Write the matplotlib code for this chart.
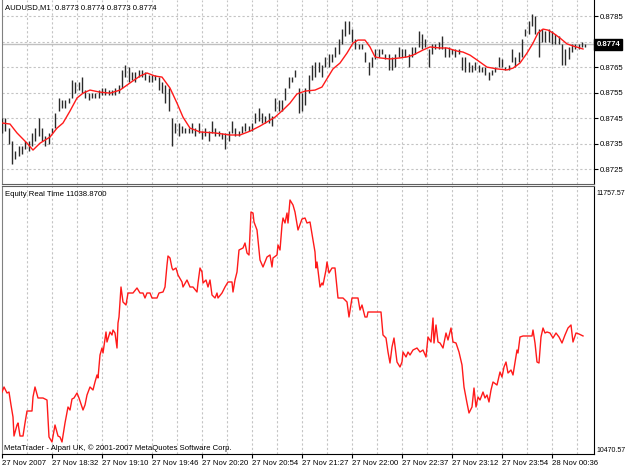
import matplotlib
matplotlib.use('Agg')
import matplotlib.pyplot as plt
import numpy as np
from matplotlib.transforms import blended_transform_factory

plt.rcParams['font.family'] = ['Liberation Sans', 'DejaVu Sans']
FS = 5.6

# ---------------- data ----------------
symbol_title = "AUDUSD,M1  0.8773 0.8774 0.8773 0.8774"
equity_title = "Equity Real Time 11038.8700"
copyright_text = "MetaTrader - Alpari UK, \u00a9 2001-2007 MetaQuotes Software Corp."

bar_high = [0.8745, 0.8745, 0.8741, 0.8736, 0.8732, 0.8734, 0.8734, 0.8736, 0.8736, 0.8739,
            0.8741, 0.8745, 0.8741, 0.8738, 0.8739, 0.8741, 0.8747, 0.8753, 0.8752, 0.8752,
            0.8753, 0.8760, 0.8759, 0.8759, 0.8761, 0.8756, 0.8755, 0.8755, 0.8755, 0.8756,
            0.8757, 0.8757, 0.8756, 0.8756, 0.8757, 0.8758, 0.8764, 0.8766, 0.8765, 0.8763,
            0.8763, 0.8764, 0.8764, 0.8763, 0.8762, 0.8762, 0.8762, 0.8761, 0.8759, 0.8758,
            0.8757, 0.8745, 0.8743, 0.8743, 0.8742, 0.8741, 0.8741, 0.8743, 0.8741, 0.8743,
            0.8740, 0.8741, 0.8740, 0.8744, 0.8741, 0.8740, 0.8739, 0.8739, 0.8740, 0.8744,
            0.8741, 0.8740, 0.8742, 0.8743, 0.8742, 0.8743, 0.8747, 0.8749, 0.8747, 0.8746,
            0.8747, 0.8746, 0.8753, 0.8752, 0.8752, 0.8757, 0.8761, 0.8761, 0.8764, 0.8757,
            0.8755, 0.8757, 0.8762, 0.8766, 0.8767, 0.8767, 0.8766, 0.8769, 0.8770, 0.8770,
            0.8773, 0.8776, 0.8780, 0.8783, 0.8783, 0.8780, 0.8776, 0.8774, 0.8774, 0.8771,
            0.8767, 0.8769, 0.8772, 0.8772, 0.8772, 0.8770, 0.8770, 0.8769, 0.8770, 0.8773,
            0.8772, 0.8772, 0.8770, 0.8773, 0.8773, 0.8779, 0.8778, 0.8776, 0.8772, 0.8774,
            0.8774, 0.8775, 0.8777, 0.8773, 0.8773, 0.8772, 0.8772, 0.8772, 0.8769, 0.8769,
            0.8767, 0.8766, 0.8767, 0.8766, 0.8765, 0.8765, 0.8763, 0.8764, 0.8765, 0.8769,
            0.8768, 0.8765, 0.8766, 0.8772, 0.8769, 0.8771, 0.8776, 0.8780, 0.8783, 0.8786,
            0.8785, 0.8780, 0.8780, 0.8779, 0.8780, 0.8779, 0.8778, 0.8777, 0.8774, 0.8772,
            0.8773, 0.8774, 0.8774, 0.8774, 0.8775, 0.8774]
bar_low = [0.8739, 0.8740, 0.8735, 0.8727, 0.8729, 0.8730, 0.8731, 0.8733, 0.8732, 0.8734,
           0.8736, 0.8738, 0.8736, 0.8734, 0.8735, 0.8739, 0.8741, 0.8748, 0.8749, 0.8749,
           0.8751, 0.8753, 0.8755, 0.8756, 0.8755, 0.8753, 0.8752, 0.8753, 0.8753, 0.8753,
           0.8754, 0.8754, 0.8754, 0.8754, 0.8754, 0.8755, 0.8757, 0.8761, 0.8759, 0.8760,
           0.8759, 0.8761, 0.8761, 0.8760, 0.8759, 0.8759, 0.8760, 0.8756, 0.8755, 0.8751,
           0.8748, 0.8734, 0.8739, 0.8738, 0.8739, 0.8739, 0.8739, 0.8739, 0.8738, 0.8739,
           0.8737, 0.8738, 0.8736, 0.8739, 0.8738, 0.8738, 0.8737, 0.8733, 0.8736, 0.8739,
           0.8738, 0.8738, 0.8739, 0.8740, 0.8740, 0.8740, 0.8743, 0.8744, 0.8743, 0.8743,
           0.8743, 0.8742, 0.8748, 0.8748, 0.8748, 0.8752, 0.8757, 0.8759, 0.8761, 0.8747,
           0.8748, 0.8750, 0.8755, 0.8760, 0.8761, 0.8763, 0.8761, 0.8765, 0.8765, 0.8767,
           0.8769, 0.8770, 0.8774, 0.8777, 0.8778, 0.8775, 0.8772, 0.8772, 0.8772, 0.8767,
           0.8762, 0.8765, 0.8768, 0.8769, 0.8770, 0.8768, 0.8764, 0.8764, 0.8765, 0.8769,
           0.8769, 0.8769, 0.8765, 0.8769, 0.8770, 0.8773, 0.8772, 0.8773, 0.8765, 0.8770,
           0.8772, 0.8772, 0.8772, 0.8769, 0.8769, 0.8770, 0.8769, 0.8770, 0.8764, 0.8763,
           0.8763, 0.8763, 0.8764, 0.8763, 0.8763, 0.8762, 0.8760, 0.8762, 0.8763, 0.8765,
           0.8765, 0.8764, 0.8764, 0.8767, 0.8765, 0.8767, 0.8769, 0.8777, 0.8778, 0.8781,
           0.8778, 0.8769, 0.8775, 0.8775, 0.8775, 0.8774, 0.8774, 0.8774, 0.8766, 0.8766,
           0.8768, 0.8771, 0.8772, 0.8772, 0.8773, 0.8773]

ma_bar = [0, 2.4, 4.5, 7.5, 9.3, 11.4, 14.4, 16.5, 18.3, 20.4,
          22.5, 24.3, 26.4, 29.4, 32.4, 35.4, 38.4, 41.4, 43.5, 45.9,
          48.0, 50.4, 52.5, 54.3, 56.4, 59.4, 63.9, 68.4, 71.4, 74.4,
          77.4, 79.5, 81.9, 84.3, 86.4, 88.5, 90.9, 93.9, 96.0, 97.8,
          99.3, 101.4, 103.5, 105.3, 106.8, 108.9, 110.4, 111.9, 113.4, 116.4,
          119.4, 121.5, 123.3, 126.3, 128.4, 131.4, 133.5, 136.5, 138.3, 140.4,
          142.5, 145.5, 148.5, 151.5, 153.3, 155.4, 157.5, 159.3, 160.8, 162.3,
          163.8, 165.3, 167.4, 169.5, 171.3, 174.3]
ma_value = [0.87431, 0.87427, 0.87392, 0.87352, 0.87325, 0.87352, 0.87376, 0.87411, 0.87431, 0.87478,
            0.87529, 0.87548, 0.87560, 0.87552, 0.87548, 0.87560, 0.87588, 0.87615, 0.87627, 0.87615,
            0.87611, 0.87568, 0.87509, 0.87454, 0.87411, 0.87396, 0.87392, 0.87384, 0.87384, 0.87399,
            0.87419, 0.87435, 0.87454, 0.87482, 0.87509, 0.87545, 0.87556, 0.87560, 0.87572, 0.87611,
            0.87643, 0.87666, 0.87705, 0.87744, 0.87756, 0.87756, 0.87729, 0.87690, 0.87686, 0.87682,
            0.87686, 0.87690, 0.87697, 0.87717, 0.87729, 0.87725, 0.87725, 0.87713, 0.87709, 0.87697,
            0.87678, 0.87650, 0.87643, 0.87639, 0.87646, 0.87666, 0.87705, 0.87744, 0.87784, 0.87799,
            0.87795, 0.87784, 0.87764, 0.87741, 0.87733, 0.87721]

eq_bar = [0, 0.6, 1.5, 2.1, 2.7, 3.3, 3.6, 4.5, 4.8, 5.4, 6.3, 6.9, 7.5, 9.0, 9.3, 9.9, 10.8, 12.3,
          13.5, 14.1, 15.0, 15.9, 16.8, 17.4, 18.0, 18.9, 19.8, 20.4, 21.0, 21.6, 22.5, 23.1, 24.3,
          24.9, 25.5, 26.4, 27.3, 27.9, 28.5, 28.8, 29.4, 30.0, 30.3, 31.2, 31.5, 32.4, 33.0, 33.3,
          33.9, 34.5, 34.8, 35.1, 35.7, 36.3, 37.2, 37.8, 39.3, 40.5, 41.4, 42.3, 42.9, 43.5, 44.4,
          45.0, 46.5, 47.1, 48.3, 48.9, 49.5, 49.8, 50.4, 51.0, 51.3, 52.2, 52.8, 54.0, 54.3, 55.5,
          56.4, 57.3, 58.5, 58.8, 59.4, 60.0, 60.3, 61.2, 61.8, 62.4, 63.0, 63.9, 64.5, 64.8, 66.0,
          66.9, 67.8, 69.0, 69.3, 69.9, 70.5, 71.1, 72.3, 72.9, 73.5, 74.1, 74.7, 75.3, 75.6, 76.5,
          77.4, 78.3, 79.5, 80.4, 81.0, 81.3, 82.5, 82.8, 83.4, 84.0, 84.3, 84.9, 85.5, 85.8, 86.4,
          87.3, 87.9, 88.8, 90.0, 90.9, 91.5, 92.4, 93.3, 93.9, 94.2, 94.5, 95.4, 96.0, 96.3, 97.2,
          97.5, 98.1, 99.0, 99.9, 100.8, 102.3, 103.5, 104.1, 105.0, 106.8, 107.4, 108.0, 108.9,
          109.5, 109.8, 113.7, 114.3, 115.2, 115.8, 116.4, 117.0, 117.6, 118.5, 119.4, 120.0, 120.3,
          121.2, 121.8, 122.4, 123.3, 124.5, 125.4, 126.3, 127.2, 127.8, 128.7, 129.3, 129.6, 130.2,
          130.8, 131.4, 132.3, 133.2, 133.8, 134.7, 135.3, 136.2, 137.1, 138.0, 138.6, 139.5, 140.1,
          141.0, 141.6, 142.2, 142.8, 143.4, 144.3, 144.9, 145.5, 146.1, 146.7, 147.3, 148.5, 149.4,
          150.0, 150.6, 151.2, 151.8, 152.7, 153.3, 154.5, 154.8, 155.4, 156.3, 159.0, 159.3, 159.9,
          160.5, 161.1, 161.7, 162.3, 162.9, 163.5, 164.4, 165.3, 166.2, 167.1, 168.0, 168.9, 169.8,
          170.7, 171.3, 172.2, 173.1, 174.3]
eq_value = [10757.1, 10782.3, 10752.1, 10757.1, 10691.8, 10631.4, 10535.9, 10591.3, 10601.3, 10535.9,
            10535.9, 10601.3, 10661.6, 10661.6, 10732.0, 10782.3, 10727.0, 10727.0, 10716.9, 10530.9,
            10505.8, 10591.3, 10535.9, 10530.9, 10505.8, 10601.3, 10681.7, 10666.6, 10721.9, 10727.0,
            10752.1, 10727.0, 10666.6, 10691.8, 10742.0, 10782.3, 10767.2, 10807.4, 10842.6, 10827.5,
            10943.1, 10978.3, 10953.2, 11058.8, 11008.5, 11058.8, 11043.7, 11068.8, 11053.7, 10978.3,
            11104.0, 11134.2, 11285.0, 11209.6, 11194.5, 11254.8, 11254.8, 11280.0, 11254.8, 11254.8,
            11229.7, 11254.8, 11254.8, 11229.7, 11229.7, 11254.8, 11259.9, 11285.0, 11395.6, 11440.8,
            11430.8, 11380.5, 11370.5, 11380.5, 11345.3, 11310.2, 11285.0, 11320.2, 11285.0, 11285.0,
            11259.9, 11305.1, 11380.5, 11360.4, 11305.1, 11320.2, 11285.0, 11320.2, 11244.8, 11229.7,
            11254.8, 11229.7, 11254.8, 11285.0, 11310.2, 11310.2, 11259.9, 11320.2, 11360.4, 11471.0,
            11481.1, 11506.2, 11455.9, 11445.9, 11662.0, 11657.0, 11611.8, 11571.5, 11420.7, 11385.5,
            11435.8, 11445.9, 11385.5, 11430.8, 11445.9, 11496.2, 11471.0, 11596.7, 11631.9, 11606.7,
            11657.0, 11606.7, 11722.4, 11697.2, 11662.0, 11571.5, 11626.8, 11631.9, 11606.7, 11611.8,
            11521.3, 11461.0, 11380.5, 11410.7, 11285.0, 11305.1, 11295.1, 11370.5, 11410.7, 11355.4,
            11380.5, 11380.5, 11229.7, 11229.7, 11209.6, 11134.2, 11229.7, 11229.7, 11169.4, 11194.5,
            11134.2, 11134.2, 11159.3, 11159.3, 11043.7, 11028.6, 10958.2, 10902.9, 10983.3, 11028.6,
            10907.9, 10882.8, 10907.9, 10958.2, 10933.1, 10958.2, 10943.1, 10968.2, 10978.3, 10958.2,
            10968.2, 10933.1, 11033.6, 11008.5, 11129.1, 11003.5, 11094.0, 11008.5, 11003.5, 10978.3,
            11053.7, 11018.5, 11078.9, 11008.5, 11003.5, 10958.2, 10892.9, 10782.3, 10701.8, 10651.6,
            10681.7, 10777.2, 10681.7, 10732.0, 10716.9, 10757.1, 10727.0, 10742.0, 10706.9, 10767.2,
            10807.4, 10792.3, 10857.7, 10832.5, 10882.8, 10907.9, 10852.6, 10867.7, 10842.6, 10968.2,
            10953.2, 11033.6, 11038.7, 11038.7, 11068.8, 11003.5, 10907.9, 10902.9, 11033.6, 11078.9,
            11053.7, 11058.8, 11053.7, 11028.6, 11053.7, 11033.6, 11003.5, 11043.7, 11078.9, 11094.0,
            11008.5, 11053.7, 11048.7, 11038.87]

price_ticks = [0.8725, 0.8735, 0.8745, 0.8755, 0.8765, 0.8775, 0.8785]
price_tick_labels = ["0.8725", "0.8735", "0.8745", "0.8755", "0.8765", "", "0.8785"]
current_price = 0.8774
equity_ticks = [10470.57, 11757.57]
equity_tick_labels = ["10470.57", "11757.57"]
time_labels = ["27 Nov 2007", "27 Nov 18:32", "27 Nov 19:10", "27 Nov 19:46", "27 Nov 20:20",
               "27 Nov 20:54", "27 Nov 21:27", "27 Nov 22:00", "27 Nov 22:37", "27 Nov 23:12",
               "27 Nov 23:54", "28 Nov 00:36"]

# ---------------- layout ----------------
W, H = 625, 469
fig = plt.figure(figsize=(W / 100, H / 100), dpi=100)
fig.patch.set_facecolor('white')

def rect(x0, y0, x1, y1):
    return [x0 / W, 1 - y1 / H, (x1 - x0) / W, (y1 - y0) / H]

ax1 = fig.add_axes(rect(2, 0, 594, 184))
ax2 = fig.add_axes(rect(2, 186, 594, 454))

XMAX = 177.6
LABEL_STEP = 15.0
GRID_STEP = 7.5
grid_kw = dict(color='#c4c4c4', lw=0.8, linestyle=(0, (2, 2)), zorder=0)

for ax in (ax1, ax2):
    ax.set_xlim(0, XMAX)
    for gx in np.arange(GRID_STEP, XMAX, GRID_STEP):
        ax.axvline(gx, **grid_kw)
    ax.set_facecolor('white')

# ---------- upper pane ----------
ax1.set_ylim(0.87192, 0.87913)
for p in price_ticks:
    ax1.axhline(p, **grid_kw)
ax1.axhline(current_price, color='#c0c0c0', lw=1.0, zorder=1)

bx = np.arange(len(bar_high))
ax1.vlines(bx, bar_low, bar_high, color='#2a2a2a', lw=1.0, zorder=3)
ax1.plot(ma_bar, ma_value, color='#ff1a1a', lw=1.0, zorder=4)

ax1.yaxis.tick_right()
ax1.set_yticks(price_ticks)
ax1.set_yticklabels(price_tick_labels, fontsize=FS)
ax1.tick_params(axis='y', length=3, width=0.8, pad=1.5, colors='black')
ax1.set_xticks([])
ax1.spines['top'].set_visible(False)
ax1.spines['left'].set_color('#808080')
ax1.spines['bottom'].set_color('#606060')
ax1.spines['right'].set_color('black')

tr = blended_transform_factory(ax1.transAxes, ax1.transData)
ax1.text(1.004, current_price, f"{current_price:.4f}", transform=tr, ha='left', va='center',
         fontsize=FS, color='white', fontweight='bold',
         bbox=dict(boxstyle='square,pad=0.25', fc='black', ec='black'))

# ---------- lower pane ----------
ax2.set_ylim(10445.45, 11792.76)
ax2.plot(eq_bar, eq_value, color='#ff1a1a', lw=1.0, zorder=3)
ax2.yaxis.tick_right()
ax2.set_yticks(equity_ticks)
ax2.set_yticklabels(equity_tick_labels, fontsize=5.0)
ax2.tick_params(axis='y', length=0, pad=2.0, colors='black')
ax2.set_xticks(np.arange(len(time_labels)) * LABEL_STEP)
ax2.set_xticklabels(time_labels, fontsize=FS, ha='left')
ax2.tick_params(axis='x', length=3, width=0.8, pad=1.5, colors='black')
ax2.spines['top'].set_color('#606060')
ax2.spines['left'].set_color('#808080')
ax2.spines['right'].set_color('black')
ax2.spines['bottom'].set_color('black')

# ---------- texts ----------
fig.text(5 / W, 1 - 8 / H, symbol_title, fontsize=FS, va='center', ha='left')
fig.text(5 / W, 1 - 194 / H, equity_title, fontsize=FS, va='center', ha='left')
fig.text(4 / W, 1 - 448 / H, copyright_text, fontsize=FS, va='center', ha='left')

fig.savefig('out.png', dpi=100)
